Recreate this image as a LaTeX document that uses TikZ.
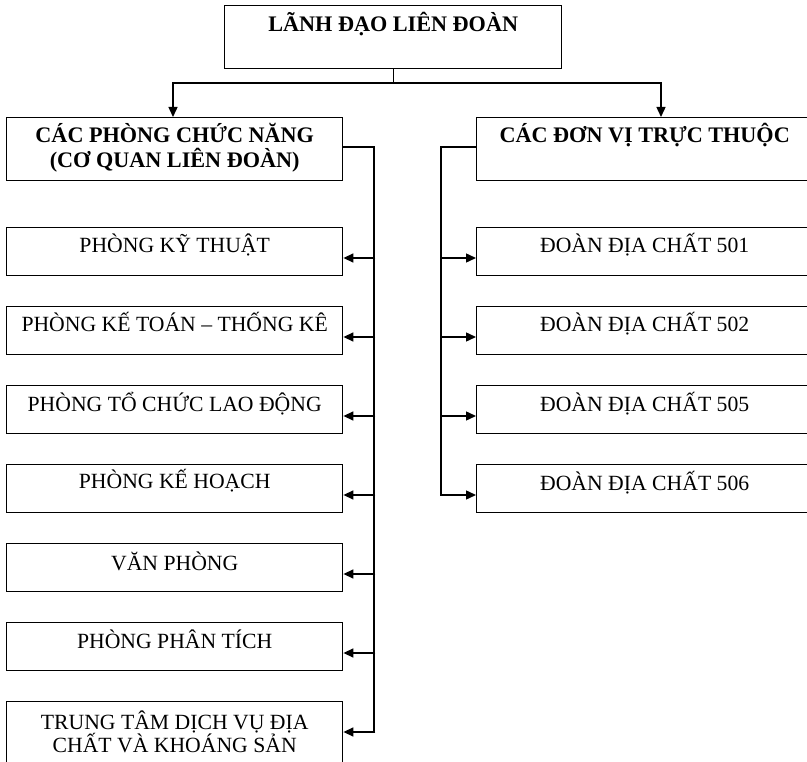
\documentclass[tikz,border=0pt]{standalone}
\usepackage{fontspec}
\setmainfont{Liberation Serif}
\usetikzlibrary{arrows.meta,calc}
\begin{document}
\begin{tikzpicture}[x=1pt,y=-1pt,
  box/.style={draw=black,line width=1.4pt,rectangle,inner sep=0pt,anchor=north west},
  lbox/.style={box,minimum width=336pt,minimum height=48pt},
  rbox/.style={box,minimum width=336pt,minimum height=48pt},
  txt/.style={inner sep=0pt,anchor=base,font=\fontsize{21.7}{24}\selectfont},
  btxt/.style={inner sep=0pt,anchor=base,font=\fontsize{22.2}{25}\selectfont\bfseries},
  conn/.style={line width=1.4pt},
  arr/.style={line width=1.4pt,-{Triangle[length=10pt,width=9pt]}}]
\useasboundingbox (0,0) rectangle (807,762);
\clip (0,0) rectangle (807,762);
% top
\node[box,minimum width=337pt,minimum height=63pt] (top) at (224,5) {};
\node[btxt] (toptxt) at ($(top.north)+(0,27)$) {LÃNH ĐẠO LIÊN ĐOÀN};
% second level
\node[box,minimum width=336pt,minimum height=63pt] (cpn) at (6,117) {};
\node[btxt] (cpn1) at ($(cpn.north)+(0,26)$) {CÁC PHÒNG CHỨC NĂNG};
\node[btxt] (cpn2) at ($(cpn.north)+(0,51)$) {(CƠ QUAN LIÊN ĐOÀN)};
\node[box,minimum width=336pt,minimum height=63pt] (dv) at (476,117) {};
\node[btxt] (dvtxt) at ($(dv.north)+(0,26)$) {CÁC ĐƠN VỊ TRỰC THUỘC};
% left boxes
\node[lbox] (kt) at (6,227) {};
\node[lbox] (ktk) at (6,306) {};
\node[lbox] (tc) at (6,385) {};
\node[lbox] (kh) at (6,464) {};
\node[lbox] (vp) at (6,543) {};
\node[lbox] (pt) at (6,622) {};
\node[lbox,minimum height=76pt] (tt) at (6,701) {};
\node[txt] at ($(kt.north)+(0,26)$) {PHÒNG KỸ THUẬT};
\node[txt] at ($(ktk.north)+(0,26)$) {PHÒNG KẾ TOÁN – THỐNG KÊ};
\node[txt] at ($(tc.north)+(0,27)$) {PHÒNG TỔ CHỨC LAO ĐỘNG};
\node[txt] at ($(kh.north)+(0,25)$) {PHÒNG KẾ HOẠCH};
\node[txt] at ($(vp.north)+(0,27)$) {VĂN PHÒNG};
\node[txt] at ($(pt.north)+(0,26)$) {PHÒNG PHÂN TÍCH};
\node[txt] at ($(tt.north)+(0,28)$) {TRUNG TÂM DỊCH VỤ ĐỊA};
\node[txt] at ($(tt.north)+(0,51)$) {CHẤT VÀ KHOÁNG SẢN};
% right boxes
\node[rbox] (d1) at (476,227) {};
\node[rbox] (d2) at (476,306) {};
\node[rbox] (d5) at (476,385) {};
\node[rbox] (d6) at (476,464) {};
\node[txt] at ($(d1.north)+(0,26)$) {ĐOÀN ĐỊA CHẤT 501};
\node[txt] at ($(d2.north)+(0,26)$) {ĐOÀN ĐỊA CHẤT 502};
\node[txt] at ($(d5.north)+(0,27)$) {ĐOÀN ĐỊA CHẤT 505};
\node[txt] at ($(d6.north)+(0,26)$) {ĐOÀN ĐỊA CHẤT 506};
% top connectors
\coordinate (busy) at (0,83);
\coordinate (bus) at (top.south |- busy);
\coordinate (cpnin) at (173,117);
\coordinate (dvin) at (661,117);
\draw[arr] (top.south) -- (bus) -| (cpnin);
\draw[arr] (bus) -| (dvin);
% left bus
\coordinate (lb) at (374,147);
\coordinate (lbend) at (374,733);
\draw[conn] (cpn.east |- lb) -- (lb) -- (lbend);
\foreach \n in {kt,ktk,tc,kh,vp,pt,tt}{
  \draw[arr] ($(\n.north east)+(32,31)$) -- ($(\n.north east)+(0,31)$);
}
% right bus
\coordinate (rb) at (441,147);
\coordinate (rbend) at (441,496);
\draw[conn] (dv.west |- rb) -- (rb) -- (rbend);
\foreach \n in {d1,d2,d5,d6}{
  \draw[arr] ($(\n.north west)+(-35,31)$) -- ($(\n.north west)+(0,31)$);
}
\end{tikzpicture}
\end{document}
